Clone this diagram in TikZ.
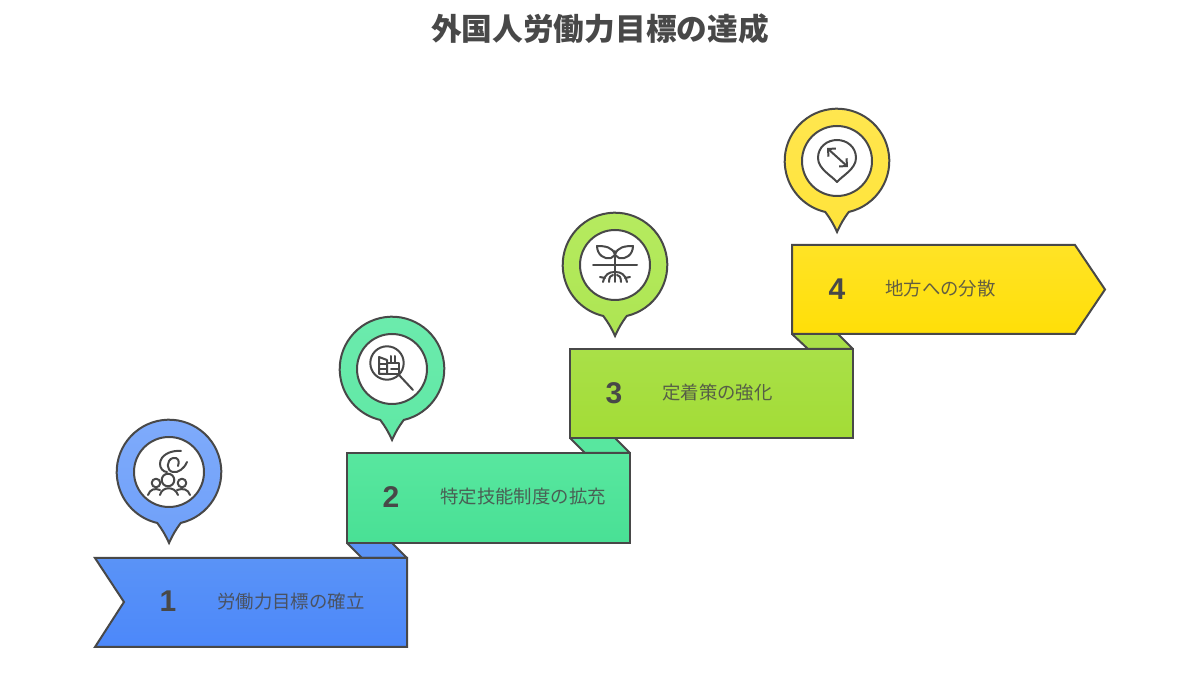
\documentclass[tikz,border=0pt]{standalone}
\usepackage{fontspec}
\setmainfont{Liberation Sans}
\newfontfamily\cjk{Noto Sans CJK JP}
\usepackage{tikz}
\usetikzlibrary{arrows.meta}
\definecolor{ink}{HTML}{484848}
\definecolor{blueA}{HTML}{5A93F7}
\definecolor{blueB}{HTML}{4C88FA}
\definecolor{bluePin}{HTML}{7FABFB}
\definecolor{bluePinB}{HTML}{6FA0F9}
\definecolor{greenA}{HTML}{58E79F}
\definecolor{greenB}{HTML}{49E095}
\definecolor{greenPin}{HTML}{6CEBAD}
\definecolor{greenPinB}{HTML}{60E8A5}
\definecolor{limeA}{HTML}{A9E048}
\definecolor{limeB}{HTML}{A3DC36}
\definecolor{limePin}{HTML}{B6EB60}
\definecolor{limePinB}{HTML}{ADE552}
\definecolor{yellowA}{HTML}{FFE326}
\definecolor{yellowB}{HTML}{FFDF08}
\definecolor{yellowPin}{HTML}{FFE650}
\definecolor{yellowPinB}{HTML}{FFE43A}
\tikzset{
  outline/.style={draw=ink,line width=2pt,line join=miter},
  fold/.style={draw=ink,line width=2pt,line join=round},
  icon/.style={draw=ink,line width=2pt,line cap=round,line join=round}
}
\begin{document}
\begin{tikzpicture}[x=1pt,y=1pt]
\useasboundingbox (0,0) rectangle (1200,675);

\node[text=ink,inner sep=0pt,font=\cjk\bfseries\fontsize{30.7}{36}\selectfont] (title) at (600,646) {外国人労働力目標の達成};

% folds first, they go behind the steps
\draw[fold,fill=blueA] (347,132) -- (362,117) -- (407,117) -- (392,132) -- cycle;
\draw[fold,fill=greenA] (570,237) -- (585,222) -- (630,222) -- (615,237) -- cycle;
\draw[fold,fill=limeA] (792,341) -- (808,326) -- (853,326) -- (838,341) -- cycle;

% steps
\draw[outline,top color=blueA,bottom color=blueB] (95,117) -- (407,117) -- (407,28) -- (95,28) -- (124,73) -- cycle;
\draw[outline,top color=greenA,bottom color=greenB] (347,222) -- (630,222) -- (630,132) -- (347,132) -- cycle;
\draw[outline,top color=limeA,bottom color=limeB] (570,326) -- (853,326) -- (853,237) -- (570,237) -- cycle;
\draw[outline,top color=yellowA,bottom color=yellowB] (792,430) -- (1075,430) -- (1105,385.5) -- (1075,341) -- (792,341) -- cycle;

\begin{scope}[every node/.style={text=ink,inner sep=0pt,font=\bfseries\fontsize{30}{34}\selectfont}]
    \node (num1) at (168,74) {1};
    \node (num2) at (391,178) {2};
    \node (num3) at (614,282) {3};
    \node (num4) at (837,386) {4};
\end{scope}

\begin{scope}[every node/.style={text=ink,text opacity=.85,inner sep=0pt,anchor=west,font=\cjk\fontsize{18.4}{22}\selectfont}]
    \node (label1) at (217,73) {労働力目標の確立};
    \node (label2) at (440,178) {特定技能制度の拡充};
    \node (label3) at (662,282) {定着策の強化};
    \node (label4) at (885,386) {地方への分散};
\end{scope}

% pins
\coordinate (pin1) at (169,203);
\coordinate (pin2) at (392,306);
\coordinate (pin3) at (615,410);
\coordinate (pin4) at (837,514);
\draw[outline,top color=bluePin,bottom color=bluePinB] (pin1) ++(-77:52.3) arc[start angle=-77,end angle=257,radius=52.3] to[bend left=6] ++(11.8,-20) to[bend left=6] cycle;
\draw[outline,top color=greenPin,bottom color=greenPinB] (pin2) ++(-77:52.3) arc[start angle=-77,end angle=257,radius=52.3] to[bend left=6] ++(11.8,-20) to[bend left=6] cycle;
\draw[outline,top color=limePin,bottom color=limePinB] (pin3) ++(-77:52.3) arc[start angle=-77,end angle=257,radius=52.3] to[bend left=6] ++(11.8,-20) to[bend left=6] cycle;
\draw[outline,top color=yellowPin,bottom color=yellowPinB] (pin4) ++(-77:52.3) arc[start angle=-77,end angle=257,radius=52.3] to[bend left=6] ++(11.8,-20) to[bend left=6] cycle;

\begin{scope}[every node/.style={circle,draw=ink,line width=2pt,fill=white,minimum size=70pt,inner sep=0pt}]
    \node (face1) at (pin1) {};
    \node (face2) at (pin2) {};
    \node (face3) at (pin3) {};
    \node (face4) at (pin4) {};
\end{scope}

% people and linked rings
\begin{scope}[shift={(pin1)},icon]
    \draw (-1,-8) circle (6.3);
    \draw (-13,-11) circle (4.3);
    \draw (13,-11) circle (4.3);
    \draw (-9,-23) .. controls (-7,-14) and (6,-14) .. (9,-23);
    \draw (-21,-23) .. controls (-19,-17) and (-14,-16) .. (-9,-18);
    \draw (21,-23) .. controls (19,-17) and (14,-16) .. (8,-18);
    \draw (12,21) .. controls (2,22) and (-9,17) .. (-9,8) .. controls (-9,4) and (-6,0) .. (-2,0);
    \draw (18,10) .. controls (15,3) and (9,-1) .. (4,0) .. controls (-3,1) and (-3,12) .. (4,14) .. controls (9,15) and (11,11) .. (9,6);
\end{scope}

% magnifier over a book
\begin{scope}[shift={(pin2)},icon]
    \draw (-5,6) circle (16.7);
    \draw (7,-6) -- (21,-21);
    \draw (-13,12) -- (-5,9) -- (-5,-5) -- (-13,-5) -- cycle;
    \draw (-13,5) -- (-5,5);
    \draw (-13,0) -- (-5,0);
    \draw (-5,6) -- (7,6) -- (7,-5) -- (-5,-5);
    \draw (-1,6) -- (-1,13);
    \draw (3,6) -- (3,13);
    \draw (-1,0) -- (7,0);
\end{scope}

% plant with roots
\begin{scope}[shift={(pin3)},icon]
    \draw (-22,0) -- (22,0);
    \draw (0,14) -- (0,-17);
    \draw (0,10) .. controls (-2,18) and (-10,19) .. (-18,19) .. controls (-18,10) and (-10,5) .. (-4,7) -- (0,10);
    \draw (0,10) .. controls (2,18) and (10,19) .. (18,19) .. controls (18,10) and (10,5) .. (4,7) -- (0,10);
    \draw (0,-7) .. controls (-6,-7) and (-10,-9) .. (-12,-17);
    \draw (0,-7) .. controls (6,-7) and (10,-9) .. (12,-17);
    \draw (-6,-17) .. controls (-6,-12) and (-4,-10) .. (-2,-10);
    \draw (6,-17) .. controls (6,-12) and (4,-10) .. (2,-10);
    \draw (-10,-13) -- (-15,-12);
    \draw (10,-13) -- (15,-12);
\end{scope}

% map marker with a double arrow
\begin{scope}[shift={(pin4)},icon]
    \draw (0,-21) .. controls (-5,-15) and (-19,-8) .. (-19,3) .. controls (-19,14) and (-10,21) .. (0,21) .. controls (10,21) and (19,14) .. (19,3) .. controls (19,-8) and (5,-15) .. (0,-21) -- cycle;
    \draw[{Straight Barb[length=5.5pt,width=11pt]}-{Straight Barb[length=5.5pt,width=11pt]}] (-10,13) -- (11,-6);
\end{scope}
\end{tikzpicture}
\end{document}
